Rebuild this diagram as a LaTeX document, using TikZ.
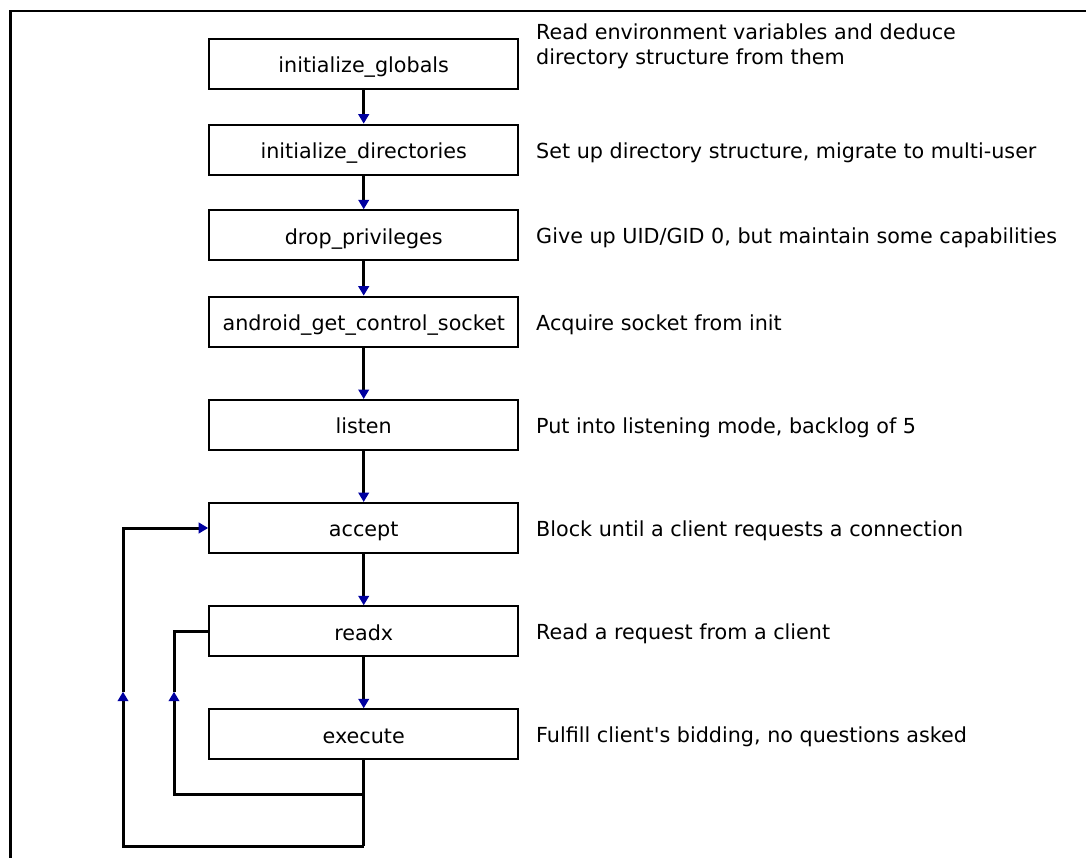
\documentclass[tikz,border=0pt]{standalone}
\usepackage{fontspec}
\setmainfont{DejaVu Sans}
\usetikzlibrary{arrows.meta}
\definecolor{tipblue}{RGB}{0,0,160}
\tikzset{
  x=1pt, y=-1pt,
  stage/.style={draw, line width=2pt, minimum width=309pt, minimum height=50pt,
    inner sep=0pt, text height=17.5pt, text depth=0pt,
    font=\fontsize{20.7pt}{25pt}\selectfont},
  note/.style={anchor=base west, inner sep=0pt, align=left,
    font=\fontsize{20.7pt}{25.5pt}\selectfont},
  conn/.style={line width=3pt},
  flow/.style={conn, -{Triangle[length=9.5pt, width=10.5pt, color=tipblue]}},
  frameline/.style={line width=2.8pt}
}
\begin{document}
\begin{tikzpicture}
\useasboundingbox (0,0) rectangle (1086,857);
% outer frame (only the top and left edges fall inside the page)
\draw[frameline] (1100,11) -- (10.5,11) -- (10.5,870);

% processing stages
\node[stage] (glob) at (363.7,63.5)  {initialize\_globals};
\node[stage] (dirs) at (363.7,149.7) {initialize\_directories};
\node[stage] (drop) at (363.7,235.3) {drop\_privileges};
\node[stage] (sock) at (363.7,321.7) {android\_get\_control\_socket};
\node[stage] (lstn) at (363.7,425.0) {listen};
\node[stage] (acpt) at (363.7,528.0) {accept};
\node[stage] (rdx)  at (363.7,631.3) {readx};
\node[stage] (exec) at (363.7,734.3) {execute};

% descriptions
\node[note] (dglob) at (536,64.5) {Read environment variables and deduce\\directory structure from them};
\node[note] (ddirs) at (536,158.0) {Set up directory structure, migrate to multi-user};
\node[note] (ddrop) at (536,243.8) {Give up UID/GID 0, but maintain some capabilities};
\node[note] (dsock) at (536,330.2) {Acquire socket from init};
\node[note] (dlstn) at (536,433.5) {Put into listening mode, backlog of 5};
\node[note] (dacpt) at (536,536.5) {Block until a client requests a connection};
\node[note] (drdx)  at (536,639.8) {Read a request from a client};
\node[note] (dexec) at (536,742.8) {Fulfill client\textquotesingle s bidding, no questions asked};

% straight flow
\draw[flow] (glob.south) -- (dirs.north);
\draw[flow] (dirs.south) -- (drop.north);
\draw[flow] (drop.south) -- (sock.north);
\draw[flow] (sock.south) -- (lstn.north);
\draw[flow] (lstn.south) -- (acpt.north);
\draw[flow] (acpt.south) -- (rdx.north);
\draw[flow] (rdx.south)  -- (exec.north);

% loop-back paths
\coordinate (j1) at (363.7,794.3);
\coordinate (c1) at (174,794.3);
\coordinate (m1) at (174,691.7);
\coordinate (j2) at (363.7,846);
\coordinate (c2) at (123,846);
\coordinate (m2) at (123,691.7);

\draw[conn] (exec.south) -- (j2);
\draw[flow] (j1) -- (c1) -- (m1);
\draw[conn] (m1) |- (rdx.west);
\draw[flow] (j2) -- (c2) -- (m2);
\draw[flow] (m2) |- (acpt.west);
\end{tikzpicture}
\end{document}
